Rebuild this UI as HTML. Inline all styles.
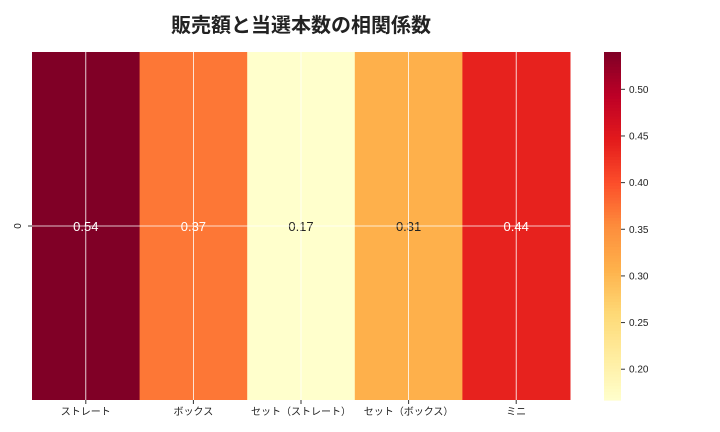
<!DOCTYPE html>
<html><head><meta charset="utf-8"><style>
body{margin:0;background:#fff;}
svg{display:block;font-family:"Liberation Sans","Noto Sans CJK JP",sans-serif;}
</style></head><body>
<svg id="c" width="720" height="432">
<text x="301" y="32" text-anchor="middle" font-size="20" font-weight="bold" fill="#222">販売額と当選本数の相関係数</text>
<g id="cells"></g><g id="grid"></g><g id="xt"></g><g id="cb"></g>
</svg>
<script>
const categories=["ストレート","ボックス","セット（ストレート）","セット（ボックス）","ミニ"];
const values=[0.54,0.37,0.167,0.31,0.44];
const valueLabels=["0.54","0.37","0.17","0.31","0.44"];
const cbTicks=[0.20,0.25,0.30,0.35,0.40,0.45,0.50];
const vmin=0.167,vmax=0.54;
const NS="http://www.w3.org/2000/svg";
const L=32,R=570,T=52,B=400;
const stops=["#ffffcc","#ffeda0","#fed976","#feb24c","#fd8d3c","#fc4e2a","#e31a1c","#bd0026","#800026"];
function hx(h){return [1,3,5].map(i=>parseInt(h.substr(i,2),16));}
function cmap(v){let t=Math.max(0,Math.min(1,(v-vmin)/(vmax-vmin)))*(stops.length-1);let i=Math.min(Math.floor(t),stops.length-2),f=t-i;let a=hx(stops[i]),b=hx(stops[i+1]);return "rgb("+a.map((x,k)=>Math.round(x+(b[k]-x)*f)).join(",")+")";}
function mk(tag,attrs,parent,txt){const e=document.createElementNS(NS,tag);for(const k in attrs)e.setAttribute(k,attrs[k]);if(txt!==undefined)e.textContent=txt;document.getElementById(parent).appendChild(e);return e;}
const cw=(R-L)/categories.length;
function xs(i){return L+i*cw;}
values.forEach((v,i)=>{
 const r=mk("rect",{x:xs(i),y:T,width:cw+0.5,height:B-T,fill:cmap(v)},"cells");
 
 
 const t=mk("text",{x:xs(i)+cw/2,y:(T+B)/2+5,"text-anchor":"middle","font-size":"13",fill:v>0.35?"#fff":"#222"},"cells",valueLabels[i]);
 
 
 const g=mk("line",{x1:xs(i)+cw/2,x2:xs(i)+cw/2,y1:T,y2:B,stroke:"#fff","stroke-width":"0.8"},"grid");
 
 
 mk("line",{x1:xs(i)+cw/2,x2:xs(i)+cw/2,y1:B,y2:B+4,stroke:"#333"},"xt");
 const xl=mk("text",{x:xs(i)+cw/2,y:B+15,"text-anchor":"middle","font-size":"10",fill:"#222"},"xt",categories[i]);
 
 
});
const hg=mk("line",{x1:L,x2:R,y1:(T+B)/2,y2:(T+B)/2,stroke:"#fff","stroke-width":"0.8"},"grid");


mk("line",{x1:L-4,x2:L,y1:(T+B)/2,y2:(T+B)/2,stroke:"#333"},"xt");
const yl=mk("text",{x:0,y:0,"font-size":"10","text-anchor":"middle",fill:"#222",transform:"translate(21,"+((T+B)/2)+") rotate(-90)"},"xt","0");


const CX=604,CW=17;
function cy(v){return B-(v-vmin)/(vmax-vmin)*(B-T);}
const N=120;
for(let k=0;k<N;k++){const v0=vmin+(vmax-vmin)*k/N;const v1=vmin+(vmax-vmin)*(k+1)/N;
 const r=mk("rect",{x:CX,y:cy(v1),width:CW,height:cy(v0)-cy(v1)+0.6,fill:cmap((v0+v1)/2)},"cb");
 
 }
cbTicks.forEach(v=>{
 mk("line",{x1:CX+CW,x2:CX+CW+4,y1:cy(v),y2:cy(v),stroke:"#333"},"cb");
 const t=mk("text",{x:CX+CW+8,y:cy(v)+3.5,"font-size":"10",fill:"#222"},"cb",v.toFixed(2));
 
 
});
</script>
</body></html>
